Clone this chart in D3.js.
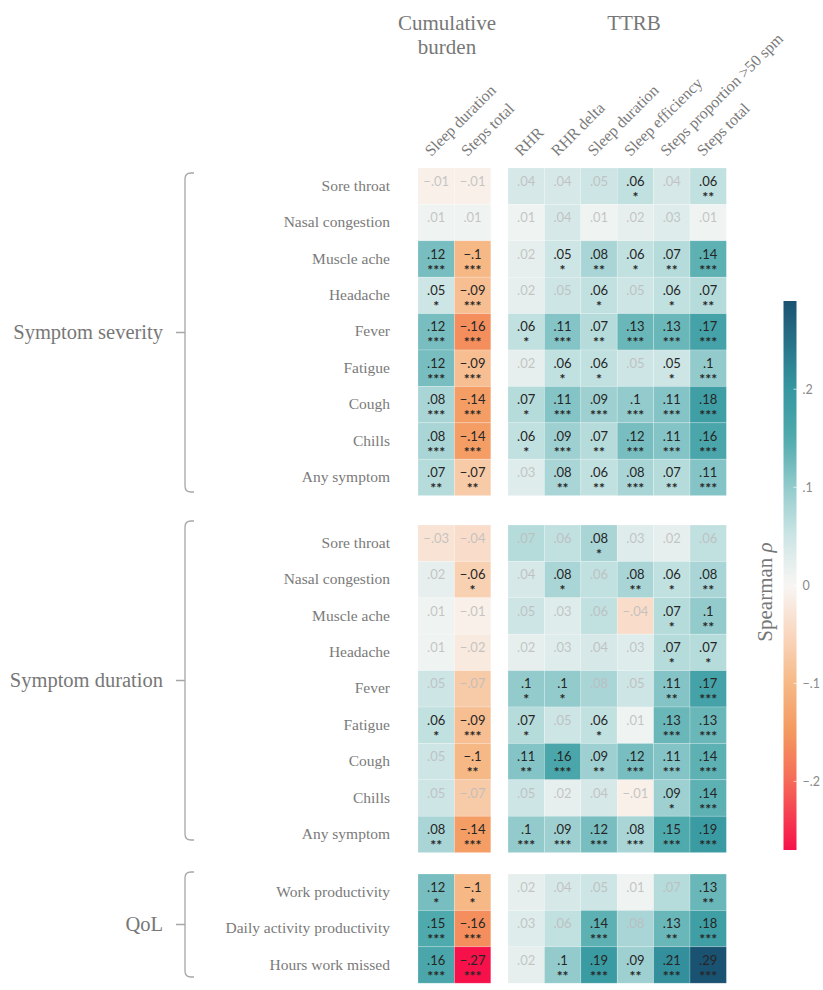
<!DOCTYPE html>
<html>
<head>
<meta charset="utf-8">
<script src="https://cdn.jsdelivr.net/npm/d3@7"></script>
<style>
  html, body { margin: 0; padding: 0; background: #fff; }
  svg { display: block; }
  .serif { font-family: "Liberation Serif", "Times New Roman", Tinos, "DejaVu Serif", serif; }
  .sans { font-family: Lato, "Open Sans", sans-serif; }
</style>
</head>
<body>
<svg id="chart" width="823" height="990"></svg>
<script>
// ---- column labels ----
const cumCols = ["Sleep duration", "Steps total"];
const ttrbCols = ["RHR", "RHR delta", "Sleep duration", "Sleep efficiency", "Steps proportion >50 spm", "Steps total"];

// ---- row labels ----
const symptomRows = ["Sore throat", "Nasal congestion", "Muscle ache", "Headache", "Fever", "Fatigue", "Cough", "Chills", "Any symptom"];
const qolRows = ["Work productivity", "Daily activity productivity", "Hours work missed"];

// ---- Spearman rho, columns: cumulative (2) then TTRB (6) ----
const severityRho = [
  [-.01, -.01, .04, .04, .05, .06, .04, .06],
  [ .01,  .01, .01, .04, .01, .02, .03, .01],
  [ .12, -.10, .02, .05, .08, .06, .07, .14],
  [ .05, -.09, .02, .05, .06, .05, .06, .07],
  [ .12, -.16, .06, .11, .07, .13, .13, .17],
  [ .12, -.09, .02, .06, .06, .05, .05, .10],
  [ .08, -.14, .07, .11, .09, .10, .11, .18],
  [ .08, -.14, .06, .09, .07, .12, .11, .16],
  [ .07, -.07, .03, .08, .06, .08, .07, .11]
];
const severitySig = [
  [0, 0, 0, 0, 0, 1, 0, 2],
  [0, 0, 0, 0, 0, 0, 0, 0],
  [3, 3, 0, 1, 2, 1, 2, 3],
  [1, 3, 0, 0, 1, 0, 1, 2],
  [3, 3, 1, 3, 2, 3, 3, 3],
  [3, 3, 0, 1, 1, 0, 1, 3],
  [3, 3, 1, 3, 3, 3, 3, 3],
  [3, 3, 1, 3, 2, 3, 3, 3],
  [2, 2, 0, 2, 2, 3, 2, 3]
];

const durationRho = [
  [-.03, -.04, .07, .06, .08,  .03, .02, .06],
  [ .02, -.06, .04, .08, .06,  .08, .06, .08],
  [ .01, -.01, .05, .03, .06, -.04, .07, .10],
  [ .01, -.02, .02, .03, .04,  .03, .07, .07],
  [ .05, -.07, .10, .10, .08,  .05, .11, .17],
  [ .06, -.09, .07, .05, .06,  .01, .13, .13],
  [ .05, -.10, .11, .16, .09,  .12, .11, .14],
  [ .05, -.07, .05, .02, .04, -.01, .09, .14],
  [ .08, -.14, .10, .09, .12,  .08, .15, .19]
];
const durationSig = [
  [0, 0, 0, 0, 1, 0, 0, 0],
  [0, 1, 0, 1, 0, 2, 1, 2],
  [0, 0, 0, 0, 0, 0, 1, 2],
  [0, 0, 0, 0, 0, 0, 1, 1],
  [0, 0, 1, 1, 0, 0, 2, 3],
  [1, 3, 1, 0, 1, 0, 3, 3],
  [0, 2, 2, 3, 2, 3, 3, 3],
  [0, 0, 0, 0, 0, 0, 1, 3],
  [2, 3, 3, 3, 3, 3, 3, 3]
];

const qolRho = [
  [.12, -.10, .02, .04, .05, .01, .07, .13],
  [.15, -.16, .03, .06, .14, .08, .13, .18],
  [.16, -.27, .02, .10, .19, .09, .21, .29]
];
const qolSig = [
  [1, 1, 0, 0, 0, 0, 0, 2],
  [3, 3, 0, 0, 3, 0, 2, 3],
  [3, 3, 0, 2, 3, 2, 3, 3]
];

const groupNames = ["Symptom severity", "Symptom duration", "QoL"];
const panelTitles = ["Cumulative\nburden", "TTRB"];
const barTicks = [-.2, -.1, 0, .1, .2];

// ---- layout ----
const rowH = 36.4;
const colW = 36.4;
const groups = [
  { name: groupNames[0], rows: symptomRows, rho: severityRho, sig: severitySig, top: 168, br: [173, 492] },
  { name: groupNames[1], rows: symptomRows, rho: durationRho, sig: durationSig, top: 525, br: [521, 840] },
  { name: groupNames[2], rows: qolRows, rho: qolRho, sig: qolSig, top: 874, br: [872, 977] }
];

const svg = d3.select("#chart");

const xCum = d3.scaleBand().domain(cumCols).range([418, 418 + colW * cumCols.length]);
const xTtrb = d3.scaleBand().domain(ttrbCols).range([508, 508 + colW * ttrbCols.length]);
const colScale = (j) => j < cumCols.length ? xCum(cumCols[j]) : xTtrb(ttrbCols[j - cumCols.length]);

// diverging colour map: red -> orange -> near white -> teal -> deep blue
const allVals = [severityRho, durationRho, qolRho].flat(2);
const [vmin, vmax] = d3.extent(allVals);
const color = d3.scaleLinear()
  .domain([-0.27, -0.2, -0.15, -0.1, -0.05, 0, 0.05, 0.1, 0.15, 0.2, 0.29])
  .range(["#f6114a", "#f56a58", "#f4985e", "#f6b885", "#f9d7bf", "#f8f6f4",
          "#cde5e5", "#93cbcc", "#4faaad", "#3597a0", "#1a5272"])
  .clamp(true);

const fmt = v => v === 0 ? "0" : d3.format(".2~f")(v).replace("0.", ".").replace("-", "\u2013");

// ---- heatmap panels ----
groups.forEach(g => {
  const y = d3.scaleBand().domain(g.rows).range([g.top, g.top + rowH * g.rows.length]);
  const cells = [];
  g.rows.forEach((r, i) => g.rho[i].forEach((v, j) => cells.push({ r, j, v, s: g.sig[i][j] })));

  const gg = svg.append("g");
  gg.selectAll("rect").data(cells).join("rect")
    .attr("x", d => colScale(d.j))
    .attr("y", d => y(d.r))
    .attr("width", colW)
    .attr("height", y.bandwidth())
    .attr("fill", d => color(d.v))
    .attr("stroke", "#ffffff")
    .attr("stroke-opacity", 0.35)
    .attr("stroke-width", 0.6);

  gg.selectAll("text.val").data(cells).join("text")
    .attr("class", "val sans")
    .attr("x", d => colScale(d.j) + colW / 2)
    .attr("y", d => y(d.r) + y.bandwidth() / 2 - 0.5)
    .attr("text-anchor", "middle")
    .attr("font-size", 13)
    .attr("fill", d => d.s > 0 ? "#262626" : "#bcbcbc")
    .attr("fill-opacity", d => d.s > 0 ? 1 : 0.85)
    .text(d => fmt(d.v));

  gg.selectAll("text.star").data(cells.filter(d => d.s > 0)).join("text")
    .attr("class", "star sans")
    .attr("x", d => colScale(d.j) + colW / 2)
    .attr("y", d => y(d.r) + y.bandwidth() / 2 + 15.5)
    .attr("text-anchor", "middle")
    .attr("font-size", 14)
    .attr("font-weight", "bold")
    .attr("fill", "#262626")
    .text(d => "*".repeat(d.s));

  // row labels
  svg.append("g").selectAll("text").data(g.rows).join("text")
    .attr("class", "serif")
    .attr("x", 390)
    .attr("y", d => y(d) + y.bandwidth() / 2)
    .attr("dy", "0.3em")
    .attr("text-anchor", "end")
    .attr("font-size", 15.5)
    .attr("fill", "#7a7a7a")
    .text(d => d);

  // bracket with rounded ends and a centre tick
  const bx = 185, r = 6, y0 = g.br[0], y1 = g.br[1], ym = (y0 + y1) / 2;
  const p = d3.path();
  p.moveTo(bx + 9, y0);
  p.lineTo(bx + r, y0);
  p.quadraticCurveTo(bx, y0, bx, y0 + r);
  p.lineTo(bx, y1 - r);
  p.quadraticCurveTo(bx, y1, bx + r, y1);
  p.lineTo(bx + 9, y1);
  p.moveTo(bx, ym);
  p.lineTo(bx - 9, ym);
  svg.append("path").attr("d", p.toString())
    .attr("fill", "none").attr("stroke", "#a6a6a6").attr("stroke-width", 1.3);

  svg.append("text")
    .attr("class", "serif")
    .attr("x", 163).attr("y", ym).attr("dy", "0.33em")
    .attr("text-anchor", "end")
    .attr("font-size", 20.5)
    .attr("fill", "#777")
    .text(g.name);
});

// ---- panel titles ----
const titleX = [447, 634];
panelTitles.forEach((t, k) => {
  const tx = svg.append("text")
    .attr("class", "serif")
    .attr("text-anchor", "middle")
    .attr("font-size", 21)
    .attr("fill", "#777");
  t.split("\n").forEach((line, i) => {
    tx.append("tspan").attr("x", titleX[k]).attr("y", 30 + i * 24).text(line);
  });
});

// ---- rotated column labels ----
const colLabels = cumCols.map(c => ({ c, x: xCum(c) + colW / 2 }))
  .concat(ttrbCols.map(c => ({ c, x: xTtrb(c) + colW / 2 })));
svg.append("g").selectAll("text").data(colLabels).join("text")
  .attr("class", "serif")
  .attr("transform", d => `translate(${d.x - 5},${157}) rotate(-45)`)
  .attr("font-size", 16)
  .attr("fill", "#7a7a7a")
  .text(d => d.c);

// ---- colour bar ----
const barX = 783.5, barW = 13, barTop = 301, barBot = 850;
const yBar = d3.scaleLinear().domain([vmin, vmax]).range([barBot, barTop]);
const grad = svg.append("defs").append("linearGradient")
  .attr("id", "rhoGrad").attr("x1", 0).attr("y1", 1).attr("x2", 0).attr("y2", 0);
d3.range(0, 1.0001, 0.02).forEach(t => {
  grad.append("stop").attr("offset", t).attr("stop-color", color(vmin + t * (vmax - vmin)));
});
svg.append("rect")
  .attr("x", barX).attr("y", barTop).attr("width", barW).attr("height", barBot - barTop)
  .attr("fill", "url(#rhoGrad)");

const axis = svg.append("g")
  .attr("transform", `translate(${barX + barW},0)`)
  .call(d3.axisRight(yBar).tickValues(barTicks).tickFormat(fmt).tickSize(0).tickPadding(6));
axis.select(".domain").remove();
axis.selectAll("text").attr("class", "sans").attr("font-family", null).attr("font-size", 12.5).attr("fill", "#8a8a8a");
svg.append("g").selectAll("line").data(barTicks).join("line")
  .attr("x1", barX + barW - 3).attr("x2", barX + barW)
  .attr("y1", d => yBar(d)).attr("y2", d => yBar(d))
  .attr("stroke", "#fff").attr("stroke-opacity", 0.7);

const lab = svg.append("text")
  .attr("class", "serif")
  .attr("transform", `translate(772,592) rotate(-90)`)
  .attr("text-anchor", "middle")
  .attr("font-size", 21)
  .attr("fill", "#777");
lab.append("tspan").text("Spearman ");
lab.append("tspan").attr("font-style", "italic").text("\u03c1");
</script>
</body>
</html>
